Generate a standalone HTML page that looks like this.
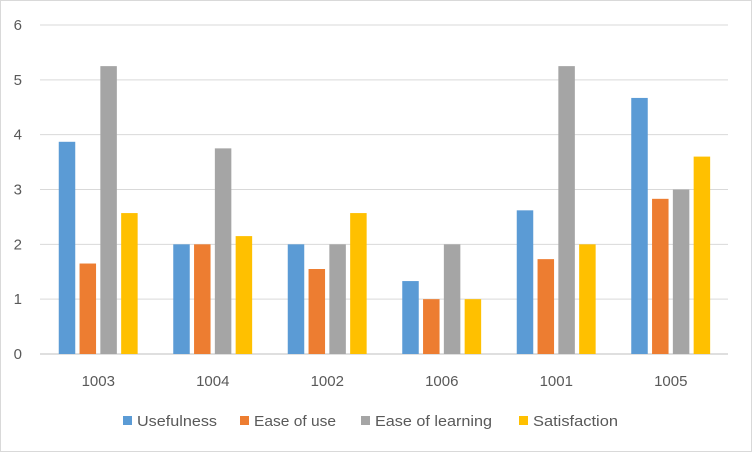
<!DOCTYPE html>
<html><head><meta charset="utf-8"><style>
html,body{margin:0;padding:0;background:#fff;}
svg{display:block;font-family:"Liberation Sans",sans-serif;}
</style></head><body>
<svg id="chart" width="752" height="452">
<rect x="0.5" y="0.5" width="751" height="451" fill="#fff" stroke="#d9d9d9"/>
<g id="grid"></g><g id="bars"></g><g id="labels"></g><g id="legend"></g>
</svg>
<script>
const categories=["1003","1004","1002","1006","1001","1005"];
const seriesNames=["Usefulness","Ease of use","Ease of learning","Satisfaction"];
const usefulness=[3.87,2,2,1.33,2.62,4.67];
const easeOfUse=[1.65,2,1.55,1,1.73,2.83];
const easeOfLearning=[5.25,3.75,2,2,5.25,3];
const satisfaction=[2.57,2.15,2.57,1,2,3.6];
const yTicks=[0,1,2,3,4,5,6];
const colors=["#5B9BD5","#ED7D31","#A5A5A5","#FFC000"];
const series=[usefulness,easeOfUse,easeOfLearning,satisfaction];
const NS="http://www.w3.org/2000/svg";
const L=41,R=728,T=25,B=354,yMax=6;
const y=v=>B-(v/yMax)*(B-T);
const bw=(R-L)/categories.length;
const cxOf=i=>L+bw*(i+0.5);
function mk(tag,attrs,parent){const e=document.createElementNS(NS,tag);for(const k in attrs)e.setAttribute(k,attrs[k]);parent.appendChild(e);return e;}
const grid=document.getElementById('grid'),bars=document.getElementById('bars'),labels=document.getElementById('labels'),legend=document.getElementById('legend');
yTicks.forEach(t=>{
 const l=mk('line',{x1:40,x2:R,y1:y(t),y2:y(t),stroke:t===0?'#bfbfbf':'#d9d9d9','stroke-width':1},grid);
 
 
 const tx=mk('text',{x:22,y:y(t)+5,'text-anchor':'end','font-size':15,fill:'#595959'},labels);
 tx.textContent=t;
 
 
});
categories.forEach((c,i)=>{
 const cx=cxOf(i);
 series.forEach((s,j)=>{
  const bx=cx-39.5+j*20.8;
  const r=mk('rect',{x:bx,y:y(s[i]),width:16.5,height:B-y(s[i]),fill:colors[j]},bars);
  
  
 });
 const tx=mk('text',{x:cx,y:386,'text-anchor':'middle','font-size':15,fill:'#595959'},labels);
 tx.textContent=c;
 
 
});
const lx=[123,240,361,519];
const lw=[80,82,117,85];
seriesNames.forEach((n,j)=>{
 const g=mk('g',{},legend);
 
 
 mk('rect',{x:lx[j],y:416,width:9,height:9,fill:colors[j]},g);
 const t=mk('text',{x:lx[j]+14,y:426,'font-size':15,fill:'#595959',textLength:lw[j],lengthAdjust:'spacingAndGlyphs'},g);
 t.textContent=n;
});
</script>
</body></html>
